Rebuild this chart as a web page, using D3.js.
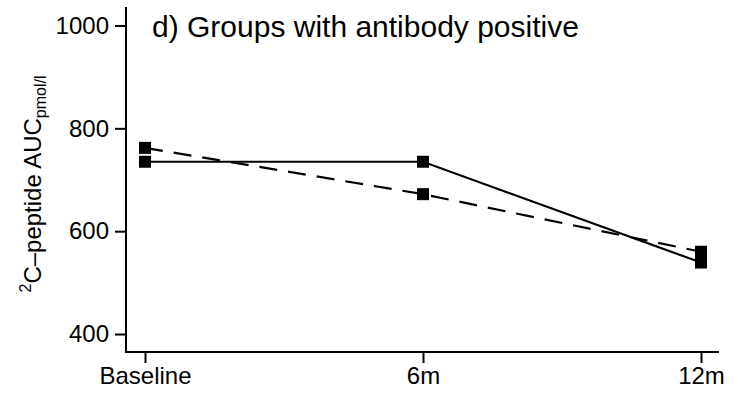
<!DOCTYPE html>
<html>
<head>
<meta charset="utf-8">
<script src="https://cdn.jsdelivr.net/npm/d3@7"></script>
<style>
  body { margin: 0; background: #fff; }
  text { font-family: "Liberation Sans", Arial, Helvetica, sans-serif; fill: #000; }
</style>
</head>
<body>
<svg id="chart" width="740" height="396"></svg>
<script>
const timepoints = ["Baseline", "6m", "12m"];
const solidSeries = [735, 735, 539];
const dashedSeries = [762, 672, 560];
const yTicks = [400, 600, 800, 1000];
const titleText = "d) Groups with antibody positive";

const svg = d3.select("#chart");

const x = d3.scalePoint().domain(timepoints).range([145, 701]);
const y = d3.scaleLinear().domain([365, 1036]).range([352, 7]);

// axis lines (open frame, left + bottom)
svg.append("line")
  .attr("x1", 126).attr("x2", 126)
  .attr("y1", y(1036)).attr("y2", y(365) + 1)
  .attr("stroke", "#000").attr("stroke-width", 2);
svg.append("line")
  .attr("x1", 125).attr("x2", 719)
  .attr("y1", y(365)).attr("y2", y(365))
  .attr("stroke", "#000").attr("stroke-width", 2);

const yAxis = svg.append("g")
  .attr("transform", "translate(126,0)")
  .call(d3.axisLeft(y).tickValues(yTicks).tickSize(11).tickPadding(6).tickFormat(d3.format("d")));
yAxis.select(".domain").remove();
yAxis.selectAll("line").attr("stroke-width", 2);
yAxis.selectAll("text").attr("font-size", 24).attr("font-family", null);

const xAxis = svg.append("g")
  .attr("transform", `translate(0,${y(365)})`)
  .call(d3.axisBottom(x).tickSize(11).tickPadding(4));
xAxis.select(".domain").remove();
xAxis.selectAll("line").attr("stroke-width", 2);
xAxis.selectAll("text").attr("font-size", 24).attr("font-family", null);

// y label
const yLabel = svg.append("text")
  .attr("transform", "translate(41,184) rotate(-90)")
  .attr("text-anchor", "middle")
  .attr("font-size", 24);
yLabel.append("tspan").attr("font-size", 16).attr("dy", -10).text("2");
yLabel.append("tspan").attr("dy", 10).text("C\u2013peptide AUC");
yLabel.append("tspan").attr("font-size", 16).attr("dy", 5).text("pmol/l");

// title
svg.append("text")
  .attr("x", 152).attr("y", 37)
  .attr("font-size", 30)
  .text(titleText);

const line = d3.line().x((d, i) => x(timepoints[i])).y((d) => y(d));

svg.append("path")
  .datum(dashedSeries)
  .attr("d", line)
  .attr("fill", "none")
  .attr("stroke", "#000")
  .attr("stroke-width", 2.2)
  .attr("stroke-dasharray", "18,11");

svg.append("path")
  .datum(solidSeries)
  .attr("d", line)
  .attr("fill", "none")
  .attr("stroke", "#000")
  .attr("stroke-width", 2.2);

const markSize = 12;
[dashedSeries, solidSeries].forEach((series) => {
  svg.append("g")
    .selectAll("rect")
    .data(series)
    .enter()
    .append("rect")
    .attr("x", (d, i) => x(timepoints[i]) - markSize / 2)
    .attr("y", (d) => y(d) - markSize / 2)
    .attr("width", markSize)
    .attr("height", markSize)
    .attr("fill", "#000");
});
</script>
</body>
</html>
